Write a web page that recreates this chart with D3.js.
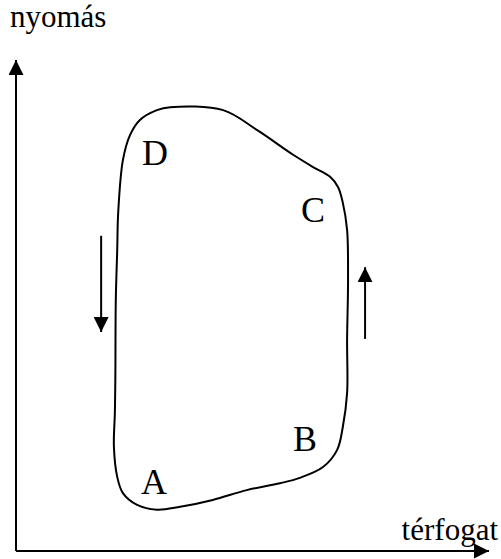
<!DOCTYPE html>
<html>
<head>
<meta charset="utf-8">
<script src="https://cdn.jsdelivr.net/npm/d3@7"></script>
<style>
  html, body { margin: 0; padding: 0; background: #fff; }
  svg { display: block; }
  text { font-family: "Liberation Serif", "Times New Roman", serif; fill: #000; }
</style>
</head>
<body>
<svg id="chart" width="501" height="559"></svg>
<script>
"use strict";

// cycle outline, [volume, pressure] in arbitrary units
const cycleVolume = [32.6, 43.8, 51.0, 58.6, 62.8, 66.4, 68.1, 69.1, 70.0, 70.2, 70.0, 70.0, 69.1, 67.9,
  64.9, 60.0, 55.8, 48.8, 41.6, 34.7, 29.8, 25.6, 22.6, 21.4, 20.7, 20.9, 21.0, 21.1, 21.4, 21.6,
  22.6, 24.1, 26.2, 29.8];
const cyclePressure = [90.4, 89.8, 85.7, 80.7, 78.2, 76.2, 74.1, 70.9, 65.4, 55.2, 43.0, 32.2, 25.3, 20.6,
  17.1, 14.9, 13.8, 12.4, 10.4, 9.0, 8.4, 9.4, 11.8, 15.1, 21.2, 28.1, 34.8, 51.1, 61.3, 68.8,
  79.6, 84.7, 87.8, 89.8];

// state labels
const stateNames = ["A", "B", "C", "D"];
const stateVolume = [29.2, 61.1, 62.8, 29.4];
const statePressure = [11.6, 20.4, 67.0, 78.6];

// direction arrows: volume, pressure from -> to
const arrowVolume = [18.0, 73.8];
const arrowFrom = [64.2, 43.2];
const arrowTo = [44.6, 57.8];

const axisLabelX = "térfogat";
const axisLabelY = "nyomás";

const svg = d3.select("#chart");

const x = d3.scaleLinear().domain([0, 100]).range([16, 489]);
const y = d3.scaleLinear().domain([0, 100]).range([551, 60]);

const defs = svg.append("defs");
function marker(id, w, h) {
  defs.append("marker")
    .attr("id", id)
    .attr("viewBox", "0 0 10 10")
    .attr("refX", 10).attr("refY", 5)
    .attr("markerUnits", "userSpaceOnUse")
    .attr("markerWidth", w).attr("markerHeight", h)
    .attr("orient", "auto")
    .append("path")
    .attr("d", "M0,0 L10,5 L0,10 Z")
    .attr("fill", "#000");
}
marker("axisHead", 15, 15);
marker("smallHead", 15, 15);

// axes
svg.append("line")
  .attr("x1", x(0)).attr("y1", y(0))
  .attr("x2", x(0)).attr("y2", y(100))
  .attr("stroke", "#000").attr("stroke-width", 2)
  .attr("marker-end", "url(#axisHead)");
svg.append("line")
  .attr("x1", x(0)).attr("y1", y(0))
  .attr("x2", x(100)).attr("y2", y(0))
  .attr("stroke", "#000").attr("stroke-width", 2)
  .attr("marker-end", "url(#axisHead)");

svg.append("text")
  .attr("x", 10).attr("y", 27)
  .attr("font-size", 31)
  .text(axisLabelY);
svg.append("text")
  .attr("x", 498).attr("y", 540)
  .attr("text-anchor", "end")
  .attr("font-size", 31)
  .text(axisLabelX);

// cycle
const pts = cycleVolume.map((v, i) => [v, cyclePressure[i]]);
const line = d3.line()
  .x(d => x(d[0]))
  .y(d => y(d[1]))
  .curve(d3.curveCatmullRomClosed.alpha(0.5));

svg.append("path")
  .attr("d", line(pts))
  .attr("fill", "none")
  .attr("stroke", "#000")
  .attr("stroke-width", 2);

// direction arrows
arrowVolume.forEach((v, i) => {
  svg.append("line")
    .attr("x1", x(v)).attr("y1", y(arrowFrom[i]))
    .attr("x2", x(v)).attr("y2", y(arrowTo[i]))
    .attr("stroke", "#000").attr("stroke-width", 2)
    .attr("marker-end", "url(#smallHead)");
});

// labels
svg.selectAll("text.state")
  .data(stateNames)
  .join("text")
  .attr("class", "state")
  .attr("x", (d, i) => x(stateVolume[i]))
  .attr("y", (d, i) => y(statePressure[i]))
  .attr("text-anchor", "middle")
  .attr("font-size", 36)
  .text(d => d);
</script>
</body>
</html>
